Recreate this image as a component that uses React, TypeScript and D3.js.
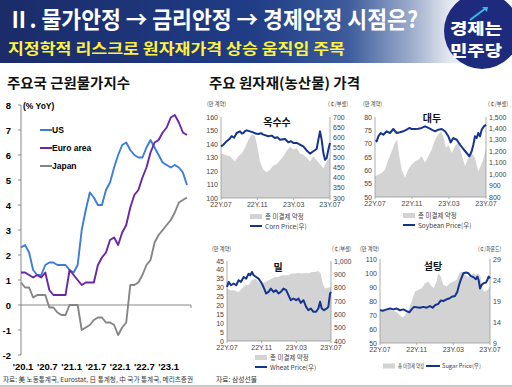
import React from 'react';
import * as d3 from 'd3';

// 주요국 근원물가지수 (% YoY), 2020.1 ~ 2023.6 월별
const usCore = [2.3, 2.4, 2.1, 1.4, 1.2, 1.2, 1.6, 1.7, 1.7, 1.6, 1.6, 1.6, 1.4, 1.3, 1.6, 3.0, 3.8, 4.5, 4.3, 4.0, 4.0, 4.6, 4.9, 5.5, 6.0, 6.4, 6.5, 6.2, 6.0, 5.9, 5.9, 6.3, 6.6, 6.3, 6.0, 5.7, 5.6, 5.5, 5.6, 5.5, 5.3, 4.8];
const euroCore = [1.3, 1.3, 1.2, 1.1, 1.2, 1.1, 1.3, 0.6, 0.4, 0.4, 0.4, 0.4, 1.4, 1.2, 1.0, 0.8, 0.9, 0.9, 0.9, 1.6, 1.9, 2.1, 2.6, 2.7, 2.4, 2.9, 3.2, 3.9, 4.4, 4.6, 5.1, 5.5, 6.1, 6.5, 6.6, 6.9, 7.1, 7.5, 7.6, 7.3, 6.9, 6.8];
const japanCore = [0.9, 0.7, 0.7, 0.3, 0.4, 0.4, 0.4, -0.1, -0.1, -0.3, -0.4, -0.4, 0.0, 0.0, 0.0, -1.0, -0.9, -0.8, -0.6, -0.5, -0.5, -0.7, -0.7, -0.8, -1.2, -0.9, -0.7, 0.8, 0.8, 0.9, 1.2, 1.6, 1.8, 2.5, 2.8, 3.0, 3.2, 3.4, 3.7, 4.1, 4.2, 4.3];
const cpiSeriesNames = ['US', 'Euro area', 'Japan'];
const cpiTickLabels = ["'20.1", "'20.7", "'21.1", "'21.7", "'22.1", "'22.7", "'23.1"];

// 원자재: [22Y.07 이후 개월 수, 값]
const cornOI: [number, number][] = [[0, 133], [0.44, 132], [0.99, 131], [1.54, 127], [1.91, 131], [2.28, 133], [2.64, 137], [3.01, 143], [3.38, 147], [3.74, 146], [4.0, 138], [4.29, 127], [4.66, 121], [5.03, 119], [5.39, 121], [5.76, 124], [6.13, 125], [6.5, 128], [6.86, 131], [7.23, 135], [7.6, 138], [7.96, 136], [8.33, 137], [8.7, 133], [9.06, 132], [9.43, 130], [9.8, 127], [10.17, 131], [10.53, 128], [10.9, 125], [11.27, 122], [11.63, 127], [12, 130]];
const cornPrice: [number, number][] = [[0, 555], [0.26, 563], [0.45, 572], [0.62, 580], [0.9, 590], [1.17, 605], [1.45, 598], [1.72, 621], [2.09, 629], [2.3, 618], [2.46, 621], [2.65, 630], [2.83, 634], [3.19, 629], [3.56, 624], [3.8, 618], [4.11, 616], [4.4, 620], [4.66, 613], [5.21, 605], [5.58, 608], [5.94, 596], [6.2, 600], [6.5, 588], [7.05, 591], [7.41, 575], [7.7, 580], [7.96, 572], [8.33, 572], [8.7, 563], [9.06, 555], [9.43, 535], [9.8, 519], [10.17, 531], [10.53, 542], [10.72, 588], [10.9, 629], [11.08, 588], [11.27, 522], [11.45, 489], [11.63, 497], [11.82, 539], [12, 572]];
const soyOI: [number, number][] = [[0, 57.8], [0.36, 58.4], [0.72, 59], [1.08, 60.3], [1.44, 64], [1.8, 67.1], [2.16, 70.3], [2.41, 71.5], [2.63, 65.3], [2.88, 60.3], [3.24, 57.1], [3.6, 60.3], [3.96, 62.1], [4.32, 63.4], [4.68, 64], [5.05, 65.3], [5.41, 62.8], [5.77, 65.3], [6.13, 67.8], [6.49, 71.5], [6.85, 73.4], [7.14, 74.6], [7.39, 72.8], [7.68, 68.4], [7.93, 69.6], [8.29, 66.5], [8.65, 69], [9.01, 70.3], [9.37, 65.9], [9.73, 61.5], [10.09, 64.6], [10.45, 66.5], [10.81, 64.6], [11.17, 59.6], [11.42, 61.5], [11.71, 64], [12, 68.4]];
const soyPrice: [number, number][] = [[0.1, 1300], [0.18, 1287], [0.36, 1331], [0.61, 1360], [0.9, 1345], [1.26, 1375], [1.62, 1360], [1.98, 1395], [2.34, 1360], [2.7, 1366], [3.06, 1375], [3.42, 1389], [3.71, 1404], [3.96, 1395], [4.32, 1395], [4.68, 1398], [5.05, 1404], [5.41, 1418], [5.77, 1404], [6.13, 1389], [6.49, 1375], [6.85, 1389], [7.21, 1395], [7.57, 1375], [7.93, 1331], [8.18, 1278], [8.47, 1316], [8.83, 1301], [9.19, 1258], [9.55, 1220], [9.91, 1185], [10.2, 1156], [10.45, 1200], [10.63, 1258], [10.81, 1331], [10.99, 1316], [11.17, 1360], [11.35, 1331], [11.53, 1389], [11.78, 1418], [12, 1433]];
const wheatOI: [number, number][] = [[0, 29.5], [0.38, 28.6], [0.77, 28.6], [1.34, 27.6], [1.73, 29.5], [2.11, 31.4], [2.49, 31.4], [2.88, 34.2], [3.26, 35.1], [3.64, 33.2], [4.03, 32.3], [4.41, 33.2], [4.79, 34.2], [5.18, 35.1], [5.56, 36], [5.94, 36], [6.33, 37], [6.71, 37], [7.09, 37], [7.48, 37.9], [7.86, 37.9], [8.24, 38.3], [8.63, 37.9], [9.01, 38.3], [9.39, 37.9], [9.78, 38.8], [10.16, 38.8], [10.54, 39.4], [10.81, 37.9], [11.04, 32.3], [11.31, 29.5], [11.69, 30.1], [12, 30.4]];
const wheatPrice: [number, number][] = [[0, 806], [0.19, 843], [0.46, 818], [0.77, 831], [1.07, 818], [1.34, 856], [1.61, 843], [1.92, 880], [2.22, 868], [2.49, 905], [2.68, 893], [2.88, 918], [3.07, 893], [3.37, 880], [3.64, 868], [4.03, 831], [4.29, 793], [4.52, 756], [4.79, 768], [5.06, 793], [5.37, 768], [5.67, 781], [5.94, 756], [6.21, 768], [6.52, 793], [6.83, 781], [7.09, 744], [7.36, 706], [7.67, 719], [7.98, 706], [8.24, 719], [8.51, 686], [8.82, 706], [9.13, 656], [9.39, 631], [9.66, 644], [9.97, 619], [10.28, 619], [10.54, 644], [10.74, 694], [10.93, 644], [11.2, 631], [11.5, 644], [11.69, 656], [11.89, 756], [12, 768]];
const sugarOI: [number, number][] = [[0, 73.5], [0.36, 74], [0.73, 73.5], [1.09, 73.5], [1.45, 72.8], [1.82, 72.3], [2.18, 69.9], [2.47, 68.2], [2.73, 69.9], [3.09, 73.5], [3.45, 79.5], [3.82, 86.7], [4.18, 87.9], [4.55, 89.1], [4.91, 92.7], [5.27, 93.9], [5.53, 91.5], [5.82, 89.1], [6.11, 92.7], [6.36, 99.9], [6.62, 97.5], [6.91, 91.5], [7.27, 90.3], [7.64, 92.7], [8.0, 93.9], [8.36, 95.1], [8.65, 99.9], [8.91, 101.1], [9.16, 99.9], [9.45, 97.5], [9.82, 97.5], [10.18, 99.9], [10.47, 98.7], [10.73, 99.9], [10.98, 97.5], [11.2, 87.9], [11.45, 86.7], [11.71, 87.9], [12, 90.3]];
const sugarPrice: [number, number][] = [[0, 16.8], [0.36, 16.7], [0.73, 17.0], [1.09, 17.2], [1.45, 17.0], [1.82, 17.2], [2.18, 16.8], [2.55, 17.0], [2.91, 16.6], [3.2, 16.3], [3.45, 17.0], [3.71, 17.6], [4.0, 17.5], [4.36, 17.4], [4.73, 17.6], [5.09, 17.4], [5.45, 17.8], [5.75, 17.4], [6.0, 18.0], [6.36, 18.3], [6.62, 19.1], [6.91, 19.0], [7.27, 19.4], [7.56, 19.6], [7.82, 20.0], [8.18, 20.2], [8.44, 21.2], [8.62, 22.8], [8.84, 24.2], [9.09, 25.6], [9.38, 25.8], [9.64, 25.6], [9.89, 25.0], [10.18, 24.7], [10.47, 24.2], [10.62, 24.8], [10.76, 24.0], [10.91, 22.0], [11.09, 22.8], [11.27, 23.2], [11.56, 23.4], [11.71, 24.0], [11.85, 24.8], [12, 24.4]];
const commodityTickLabels = ['22Y.07', '22Y.11', '23Y.03', '23Y.07'];

const KR = '"Noto Sans CJK KR", "Noto Sans", sans-serif';
const NUM = '"Liberation Sans Narrow", "Liberation Sans", Arial, sans-serif';
const BLUE = '#15348f';
const GRAY_AREA = '#d3d3d3';

function CpiChart() {
  const x = d3.scaleLinear().domain([0, 42]).range([21, 191]);
  const y = d3.scaleLinear().domain([-2, 8]).range([355, 105]);
  const line = d3.line<number>().x((_, i) => x(i)).y(d => y(d));
  const series = [
    { name: cpiSeriesNames[0], data: usCore, color: '#3b7dd8' },
    { name: cpiSeriesNames[1], data: euroCore, color: '#6a25a8' },
    { name: cpiSeriesNames[2], data: japanCore, color: '#858585' },
  ];
  return (
    <g>
      <line x1={21} x2={21} y1={y(8)} y2={y(-2)} stroke="#888" />
      {d3.range(-2, 9).map(v => (
        <g key={v}>
          <line x1={18} x2={21} y1={y(v)} y2={y(v)} stroke="#888" />
          <text x={11} y={y(v) + 3.5} textAnchor="end" fontSize={9.5} fontWeight={700} fontFamily={NUM}>{v}</text>
        </g>
      ))}
      <line x1={21} x2={191} y1={y(0)} y2={y(0)} stroke="#888" />
      <line x1={191} x2={191} y1={y(0)} y2={y(0) + 3} stroke="#888" />
      <text x={23} y={108.5} fontSize={8.5} fontWeight={700} fontFamily={NUM}>(% YoY)</text>
      {cpiTickLabels.map((t, i) => (
        <text key={t} x={x(i * 6) + 2} y={370} textAnchor="middle" fontSize={9.5} fontWeight={700} fontFamily={NUM}>{t}</text>
      ))}
      {series.map(s => (
        <path key={s.name} d={line(s.data) || ''} fill="none" stroke={s.color} strokeWidth={1.9} strokeLinejoin="round" />
      ))}
      {series.map((s, i) => (
        <g key={s.name + 'lg'}>
          <line x1={40} x2={52} y1={130 + i * 18} y2={130 + i * 18} stroke={s.color} strokeWidth={2} />
          <text x={52} y={133 + i * 18} fontSize={8.5} fontWeight={700} fontFamily={NUM}>{s.name}</text>
        </g>
      ))}
    </g>
  );
}

interface SmallProps {
  left: number; right: number; top: number; bottom: number;
  oi: [number, number][]; price: [number, number][];
  lDomain: [number, number]; lStep: number;
  rDomain: [number, number]; rStep: number;
  title: string; titleX: number; titleY: number;
  rUnit: string; unitY: number; lUnitX: number; rUnitX: number; rUnitW: number;
  legend: { name: string; x: number; y: number; inline?: boolean };
}

function SmallChart(p: SmallProps) {
  const x = d3.scaleLinear().domain([0, 12]).range([p.left, p.right]);
  const yl = d3.scaleLinear().domain(p.lDomain).range([p.bottom, p.top]);
  const yr = d3.scaleLinear().domain(p.rDomain).range([p.bottom, p.top]);
  const area = d3.area<[number, number]>().x(d => x(d[0])).y0(p.bottom).y1(d => yl(d[1]));
  const line = d3.line<[number, number]>().x(d => x(d[0])).y(d => yr(d[1]));
  const lt = d3.range(p.lDomain[0], p.lDomain[1] + 0.001, p.lStep);
  const rt = d3.range(p.rDomain[0], p.rDomain[1] + 0.001, p.rStep);
  const fmt = d3.format(',');
  const fs = 7;
  const lg = p.legend;
  return (
    <g fontFamily={NUM} fill="#444">
      <path d={area(p.oi) || ''} fill={GRAY_AREA} />
      <line x1={p.left} x2={p.left} y1={p.top} y2={p.bottom} stroke="#999" strokeWidth={0.8} />
      <line x1={p.right} x2={p.right} y1={p.top} y2={p.bottom} stroke="#999" strokeWidth={0.8} />
      <line x1={p.left} x2={p.right} y1={p.bottom} y2={p.bottom} stroke="#999" strokeWidth={0.8} />
      {lt.map(v => (
        <text key={'l' + v} x={p.left - 3} y={yl(v) + 2.5} textAnchor="end" fontSize={fs}>{fmt(v)}</text>
      ))}
      {rt.map(v => (
        <text key={'r' + v} x={p.right + 3} y={yr(v) + 2.5} fontSize={fs}>{fmt(v)}</text>
      ))}
      {commodityTickLabels.map((t, i) => (
        <g key={t}>
          <line x1={x(i * 4)} x2={x(i * 4)} y1={p.bottom} y2={p.bottom + 2} stroke="#999" strokeWidth={0.8} />
          <text x={x(i * 4)} y={p.bottom + 9} textAnchor="middle" fontSize={fs}>{t}</text>
        </g>
      ))}
      <path d={line(p.price) || ''} fill="none" stroke={BLUE} strokeWidth={2} strokeLinejoin="round" />
      <text x={p.lUnitX} y={p.unitY} fontSize={6} fontFamily={KR} textLength={19} lengthAdjust="spacingAndGlyphs">(만 계약)</text>
      <text x={p.rUnitX} y={p.unitY} fontSize={6} fontFamily={KR} textLength={p.rUnitW} lengthAdjust="spacingAndGlyphs">{p.rUnit}</text>
      <text x={p.titleX} y={p.titleY} textAnchor="middle" fontSize={10} fontWeight={700} fill="#111" fontFamily={KR}>{p.title}</text>
      {lg.inline ? (
        <g>
          <rect x={lg.x} y={lg.y - 2.5} width={12} height={5} fill={GRAY_AREA} />
          <text x={lg.x + 15} y={lg.y + 2} fontSize={5.5} fontFamily={KR} textLength={26} lengthAdjust="spacingAndGlyphs">총 미결제 약정</text>
          <line x1={lg.x + 43} x2={lg.x + 57} y1={lg.y} y2={lg.y} stroke={BLUE} strokeWidth={2} />
          <text x={lg.x + 59} y={lg.y + 2} fontSize={5.5} fontFamily={KR} textLength={39} lengthAdjust="spacingAndGlyphs">{lg.name}</text>
        </g>
      ) : (
        <g>
          <rect x={lg.x} y={lg.y - 3} width={12} height={5} fill={GRAY_AREA} />
          <text x={lg.x + 15} y={lg.y + 2} fontSize={6.5} fontFamily={KR}>총 미결제 약정</text>
          <line x1={lg.x} x2={lg.x + 12} y1={lg.y + 9} y2={lg.y + 9} stroke={BLUE} strokeWidth={2} />
          <text x={lg.x + 15} y={lg.y + 11.5} fontSize={6.5} fontFamily={KR}>{lg.name}</text>
        </g>
      )}
    </g>
  );
}

export default function App() {
  return (
    <div style={{ position: 'absolute', left: 0, top: 0 }}>
      <svg width={512} height={387} viewBox="0 0 512 387" style={{ display: 'block', background: '#fff' }}>
        <defs>
          <linearGradient id="hdr" x1="0" x2="1" y1="0" y2="0">
            <stop offset="0" stopColor="#1a2b68" />
            <stop offset="0.5" stopColor="#203d86" />
            <stop offset="0.68" stopColor="#3d5c9c" />
            <stop offset="0.8" stopColor="#9aaacb" />
            <stop offset="0.88" stopColor="#e6e9f0" />
            <stop offset="1" stopColor="#ffffff" />
          </linearGradient>
        </defs>
        <rect x={0} y={0} width={512} height={63} fill="url(#hdr)" />
        <text x={8} y={28} fontSize={23} fontWeight={700} fill="#fff" fontFamily={KR} textLength={410} lengthAdjust="spacingAndGlyphs">Ⅱ. 물가안정 → 금리안정 → 경제안정 시점은?</text>
        <text x={8} y={54} fontSize={15} fontWeight={700} fill="#fff23a" fontFamily={KR} textLength={337} lengthAdjust="spacingAndGlyphs">지정학적 리스크로 원자재가격 상승 움직임 주목</text>
        <circle cx={482} cy={31} r={38} fill="#1e2a7c" />
        <path d="M470,20 L486,8" stroke="#36b8ea" strokeWidth={2} fill="none" />
        <path d="M482,7 L488,7 L487,12 Z" fill="#36b8ea" />
        <text x={476} y={34} textAnchor="middle" fontSize={15} fontWeight={900} fill="#fff" fontFamily={KR} textLength={52} lengthAdjust="spacingAndGlyphs">경제는</text>
        <text x={476} y={56} textAnchor="middle" fontSize={15} fontWeight={900} fill="#fff" fontFamily={KR} textLength={52} lengthAdjust="spacingAndGlyphs">민주당</text>

        <text x={7} y={88} fontSize={14} fontWeight={700} fill="#111" fontFamily={KR} textLength={123} lengthAdjust="spacingAndGlyphs">주요국 근원물가지수</text>
        <text x={209} y={88} fontSize={14} fontWeight={700} fill="#111" fontFamily={KR} textLength={151} lengthAdjust="spacingAndGlyphs">주요 원자재(농산물) 가격</text>

        <CpiChart />

        <SmallChart left={221} right={330} top={117} bottom={198} oi={cornOI} price={cornPrice}
          lDomain={[100, 160]} lStep={10} rDomain={[300, 700]} rStep={50}
          title="옥수수" titleX={277} titleY={126} rUnit="(￠/부셸)" unitY={106}
          lUnitX={207} rUnitX={328} rUnitW={20}
          legend={{ name: 'Corn Price(우)', x: 250, y: 217 }} />
        <SmallChart left={375} right={486} top={117} bottom={197} oi={soyOI} price={soyPrice}
          lDomain={[50, 80]} lStep={5} rDomain={[800, 1500]} rStep={100}
          title="대두" titleX={432} titleY={122} rUnit="(￠/부셸)" unitY={106}
          lUnitX={363} rUnitX={488} rUnitW={20}
          legend={{ name: 'Soybean Price(우)', x: 403, y: 216 }} />
        <SmallChart left={227} right={331} top={261} bottom={341} oi={wheatOI} price={wheatPrice}
          lDomain={[0, 45]} lStep={5} rDomain={[400, 1000]} rStep={100}
          title="밀" titleX={278} titleY={271} rUnit="(￠/부셸)" unitY={251}
          lUnitX={212} rUnitX={332} rUnitW={19}
          legend={{ name: 'Wheat Price(우)', x: 255, y: 358 }} />
        <SmallChart left={380} right={490} top={259} bottom={343} oi={sugarOI} price={sugarPrice}
          lDomain={[50, 110]} lStep={10} rDomain={[9, 29]} rStep={5}
          title="설탕" titleX={433} titleY={270} rUnit="(￠/파운드)" unitY={251}
          lUnitX={360} rUnitX={478} rUnitW={23}
          legend={{ name: 'Sugar Price(우)', x: 383, y: 366, inline: true }} />

        <text x={3} y={382} fontSize={6.8} fill="#333" fontFamily={KR} textLength={190} lengthAdjust="spacingAndGlyphs">자료: 美 노동통계국, Eurostat, 日 통계청, 中 국가 통계국, 메리츠증권</text>
        <text x={216} y={382} fontSize={6.8} fill="#333" fontFamily={KR}>자료: 삼성선물</text>
        <rect x={0} y={385} width={512} height={2} fill="#c8c8c8" />
      </svg>
    </div>
  );
}
